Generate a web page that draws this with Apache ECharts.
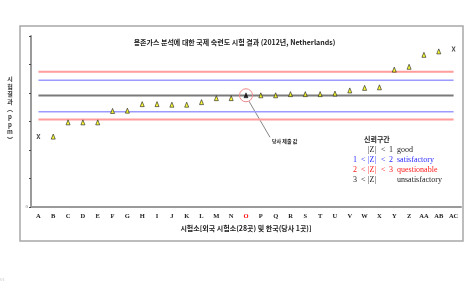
<!DOCTYPE html>
<html><head><meta charset="utf-8">
<script src="https://cdn.jsdelivr.net/npm/echarts@6/dist/echarts.min.js"></script>
<style>html,body{margin:0;padding:0;background:#fff}#c{width:469px;height:285px}</style>
</head><body><div id="c"></div>
<script>
const categories = ['A','B','C','D','E','F','G','H','I','J','K','L','M','N','O','P','Q','R','S','T','U','V','W','X','Y','Z','AA','AB','AC'];
const labValues = [24.7,24.7,29.7,29.7,29.7,33.7,33.8,36.1,36.1,35.9,35.9,36.8,38.2,38.2,39.2,39.2,39.2,39.6,39.6,39.6,39.8,40.9,41.8,42.0,48.2,49.2,53.4,54.6,55.4];
const xMarkedLabs = ['A','AC'];
const ownLab = 'O';
const assignedValue = 39.1;
const satisfactoryBounds = [33.4, 44.5];
const questionableBounds = [30.7, 47.5];
const yTicks = [0,10,20,30,40,50,60];
const yTickLabels = ['0','','','','','',''];

const chart = echarts.init(document.getElementById('c'), null, {renderer:'canvas'});
const xPath = 'path://M0,0 L3,0 L5,3.5 L7,0 L10,0 L6.5,5 L10,10 L7,10 L5,6.5 L3,10 L0,10 L3.5,5 Z';
const serif = '"Liberation Serif", "DejaVu Serif", serif';
const kr = '"Noto Sans CJK KR", sans-serif';

function flat(v){ return categories.map(()=>v); }
function refLine(v, color, w){
  return {type:'line', data: flat(v), symbol:'none', silent:true, z:1,
          lineStyle:{color:color, width:w}, animation:false};
}

const pointData = labValues.map((v,i)=>{
  const cat = categories[i];
  if (xMarkedLabs.includes(cat)) {
    return {value:v, symbol:xPath, symbolSize:[4,5], itemStyle:{color:'#222', borderWidth:0}};
  }
  if (cat === ownLab) {
    return {value:v, symbol:'triangle', symbolSize:[4,5], itemStyle:{color:'#000', borderColor:'#000', borderWidth:0.6}};
  }
  return {value:v, symbol:'triangle', symbolSize:[4,5], itemStyle:{color:'#ffff00', borderColor:'#222', borderWidth:0.8}};
});

const option = {
  animation:false,
  backgroundColor:'#fff',
  grid:{left:31, right:8, top:36, bottom:78},
  xAxis:{
    type:'category', data:categories, boundaryGap:true,
    axisLine:{lineStyle:{color:'#9a9a9a', width:2}},
    axisTick:{show:false},
    axisLabel:{interval:0, margin:6, fontFamily:serif, fontWeight:'bold', fontSize:6.5,
      color:(val)=> val===ownLab ? '#ff0000' : '#222'},
    name:'시험소[외국 시험소(28곳) 및 한국(당사 1곳)]',
    nameLocation:'middle', nameGap:18,
    nameTextStyle:{fontFamily:kr, fontWeight:'bold', fontSize:7, color:'#222', padding:[0,0,0,0]}
  },
  yAxis:{
    type:'value', min:yTicks[0], max:yTicks[yTicks.length-1], interval:yTicks[1]-yTicks[0],
    splitLine:{show:false},
    axisLine:{show:true, lineStyle:{color:'#9a9a9a', width:2}},
    axisTick:{show:true, length:2, lineStyle:{color:'#444', width:1}},
    axisLabel:{margin:3, fontSize:5, color:'#777', fontFamily:serif,
      formatter:(v)=>{const k=yTicks.indexOf(v); return k>=0?yTickLabels[k]:'';}}
  },
  series:[
    refLine(questionableBounds[1], '#ff9c9c', 2),
    refLine(satisfactoryBounds[1], '#9c9cff', 1.5),
    refLine(assignedValue, '#7a7a7a', 2),
    refLine(satisfactoryBounds[0], '#9c9cff', 1.5),
    refLine(questionableBounds[0], '#ff9c9c', 2),
    {type:'scatter', data:pointData, z:5,
     markPoint:{symbol:'circle', symbolSize:13, silent:true, label:{show:false},
       itemStyle:{color:'rgba(0,0,0,0)', borderColor:'#f08a8a', borderWidth:1},
       data:[{coord:[ownLab, labValues[categories.indexOf(ownLab)]]}]}}
  ],
  graphic:[
    {type:'rect', shape:{x:20, y:26, width:443, height:215}, style:{fill:'none', stroke:'#a8a8a8', lineWidth:1.5}, z:-1, silent:true},
    {type:'text', left:'center', x:0, top:39, style:{text:'용존가스 분석에 대한 국제 숙련도 시험 결과 (2012년, Netherlands)', font:'bold 7px '+kr, fill:'#222'}},
    {type:'text', x:10, y:75, style:{text:['시','험','결','과','︵','p','p','m','︶'].join('\n'), font:'bold 6px '+kr, fill:'#333', lineHeight:7.6, align:'center'}},
    {type:'text', x:364, y:136, style:{text:'신뢰구간', font:'bold 7px '+kr, fill:'#222'}},
    // legend rows
    {type:'text', x:368, y:146, style:{text:'|Z|', font:'8px '+serif, fill:'#222'}},
    {type:'text', x:381, y:146, style:{text:'<', font:'8px '+serif, fill:'#222'}},
    {type:'text', x:389, y:146, style:{text:'1', font:'8px '+serif, fill:'#222'}},
    {type:'text', x:397, y:146, style:{text:'good', font:'8px '+serif, fill:'#222'}},

    {type:'text', x:353, y:156, style:{text:'1', font:'8px '+serif, fill:'#2a2aff'}},
    {type:'text', x:361, y:156, style:{text:'<', font:'8px '+serif, fill:'#2a2aff'}},
    {type:'text', x:368, y:156, style:{text:'|Z|', font:'8px '+serif, fill:'#2a2aff'}},
    {type:'text', x:381, y:156, style:{text:'<', font:'8px '+serif, fill:'#2a2aff'}},
    {type:'text', x:389, y:156, style:{text:'2', font:'8px '+serif, fill:'#2a2aff'}},
    {type:'text', x:397, y:156, style:{text:'satisfactory', font:'8px '+serif, fill:'#2a2aff'}},

    {type:'text', x:353, y:166, style:{text:'2', font:'8px '+serif, fill:'#ff1a1a'}},
    {type:'text', x:361, y:166, style:{text:'<', font:'8px '+serif, fill:'#ff1a1a'}},
    {type:'text', x:368, y:166, style:{text:'|Z|', font:'8px '+serif, fill:'#ff1a1a'}},
    {type:'text', x:381, y:166, style:{text:'<', font:'8px '+serif, fill:'#ff1a1a'}},
    {type:'text', x:389, y:166, style:{text:'3', font:'8px '+serif, fill:'#ff1a1a'}},
    {type:'text', x:397, y:166, style:{text:'questionable', font:'8px '+serif, fill:'#ff1a1a'}},

    {type:'text', x:353, y:176, style:{text:'3', font:'8px '+serif, fill:'#222'}},
    {type:'text', x:361, y:176, style:{text:'<', font:'8px '+serif, fill:'#222'}},
    {type:'text', x:368, y:176, style:{text:'|Z|', font:'8px '+serif, fill:'#222'}},
    {type:'text', x:397, y:176, style:{text:'unsatisfactory', font:'8px '+serif, fill:'#222'}},
    {type:'text', x:0, y:277, style:{text:'01', font:'5px '+serif, fill:'#c8c8c8'}}
  ]
};
chart.setOption(option);

// annotation arrow for own lab value
const ownPx = chart.convertToPixel({xAxisIndex:0, yAxisIndex:0}, [ownLab, labValues[categories.indexOf(ownLab)]]);
chart.setOption({graphic: option.graphic.concat([
  {type:'line', shape:{x1:ownPx[0]+3, y1:ownPx[1]+6, x2:ownPx[0]+24, y2:ownPx[1]+42}, style:{stroke:'#666', lineWidth:0.8}},
  {type:'text', x:ownPx[0]+26, y:ownPx[1]+43, style:{text:'당사 제출 값', font:'bold 5px '+kr, fill:'#222'}}
])});
</script>
</body></html>
